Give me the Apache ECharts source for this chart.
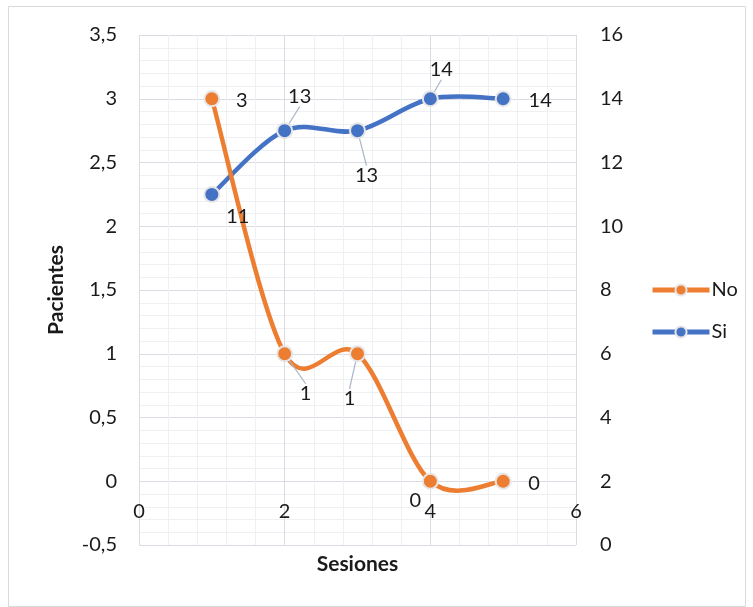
<!DOCTYPE html>
<html>
<head>
<meta charset="utf-8">
<script src="https://cdn.jsdelivr.net/npm/echarts@6/dist/echarts.min.js"></script>
<style>html,body{margin:0;padding:0;background:#fff}#c{width:753px;height:607px}</style>
</head>
<body>
<div id="c"></div>
<script>
var sesiones = [1, 2, 3, 4, 5];
var noValues = [3, 1, 1, 0, 0];
var siValues = [11, 13, 13, 14, 14];
var seriesNames = ['No', 'Si'];
var leftTicks = { min: -0.5, max: 3.5, interval: 0.5 };
var rightTicks = { min: 0, max: 16, interval: 2 };
var xTicks = { min: 0, max: 6, interval: 2 };

// label placement (offset of label centre from the point), leader flags
var noLabelOffsets = [[30, 2], [21, 40], [-8, 45], [-15, 19], [31, 2]];
var siLabelOffsets = [[26, 22], [15, -34], [9, 45], [11, -29], [37, 2]];
var noLeaders = [false, true, true, false, false];
var siLeaders = [false, true, true, true, false];

var FONT = 'Lato';
var TXT = '#1a1a1a';
var ORANGE = '#ED7D31';
var BLUE = '#4472C4';

function mkData(xs, ys, leaders) {
  return xs.map(function (x, i) {
    return { value: [x, ys[i]], labelLine: { show: leaders[i] } };
  });
}
function comma(v) { return String(v).replace('.', ','); }

// Excel-like smoothed curve (Catmull-Rom, 1/6 tangents) through coords from the axes
function curveSeries(name, xs, ys, color, yIdx, z) {
  return {
    name: name + '-curve',
    type: 'custom',
    yAxisIndex: yIdx,
    silent: true,
    z: z,
    data: xs.map(function (x, i) { return [x, ys[i]]; }),
    encode: { x: 0, y: 1 },
    renderItem: function (params, api) {
      if (params.dataIndex !== 0) return null;
      var p = xs.map(function (x, i) { return api.coord([x, ys[i]]); });
      var n = p.length;
      var d = 'M' + p[0][0] + ',' + p[0][1];
      for (var i = 0; i < n - 1; i++) {
        var p0 = p[Math.max(i - 1, 0)], p1 = p[i], p2 = p[i + 1], p3 = p[Math.min(i + 2, n - 1)];
        var c1x = p1[0] + (p2[0] - p0[0]) / 6, c1y = p1[1] + (p2[1] - p0[1]) / 6;
        var c2x = p2[0] - (p3[0] - p1[0]) / 6, c2y = p2[1] - (p3[1] - p1[1]) / 6;
        d += ' C' + c1x + ',' + c1y + ' ' + c2x + ',' + c2y + ' ' + p2[0] + ',' + p2[1];
      }
      return {
        type: 'path',
        shape: { pathData: d },
        style: { fill: 'none', stroke: color, lineWidth: 4.5, lineCap: 'round', lineJoin: 'round' }
      };
    }
  };
}

var chart = echarts.init(document.getElementById('c'), null, { renderer: 'canvas' });
var pointSeries = function (name, data, color, yIdx, offsets, z) {
  return {
    name: name,
    type: 'line',
    yAxisIndex: yIdx,
    data: data,
    symbol: 'circle',
    symbolSize: 15,
    lineStyle: { color: color, width: 4.5, opacity: 0 },
    itemStyle: { color: color, borderColor: '#e6e6e6', borderWidth: 2 },
    label: {
      show: true,
      position: 'inside',
      color: TXT,
      fontFamily: FONT,
      fontSize: 20,
      formatter: function (p) { return comma(p.value[1]); }
    },
    labelLine: { show: false, lineStyle: { color: '#a9b5c6', width: 1.2 } },
    labelLayout: function (p) {
      var o = offsets[p.dataIndex];
      return { dx: o[0], dy: o[1] };
    },
    emphasis: { disabled: true },
    z: z
  };
};

chart.setOption({
  animation: false,
  backgroundColor: '#ffffff',
  graphic: [{
    type: 'rect',
    shape: { x: 8.5, y: 6.5, width: 737, height: 600 },
    style: { fill: 'none', stroke: '#d9d9d9', lineWidth: 1 },
    silent: true
  }],
  grid: { left: 139, right: 177, top: 35, bottom: 62, containLabel: false, outerBoundsMode: 'none' },
  legend: {
    orient: 'vertical',
    left: 645,
    top: 275,
    itemWidth: 57,
    itemHeight: 14,
    itemGap: 22,
    textStyle: { fontFamily: FONT, fontSize: 20, color: TXT, padding: [0, 0, 0, -3] },
    data: [
      { name: seriesNames[0], lineStyle: { color: ORANGE, width: 5, opacity: 1 } },
      { name: seriesNames[1], lineStyle: { color: BLUE, width: 5, opacity: 1 } }
    ]
  },
  xAxis: {
    type: 'value',
    position: 'bottom',
    min: xTicks.min, max: xTicks.max, interval: xTicks.interval,
    name: 'Sesiones',
    nameLocation: 'middle',
    nameGap: 9,
    nameTextStyle: { fontFamily: FONT, fontSize: 21, fontWeight: 'bold', color: TXT },
    axisLine: { show: false, onZero: false },
    axisTick: { show: false },
    axisLabel: { fontFamily: FONT, fontSize: 20, color: TXT, margin: -43, showMinLabel: true, showMaxLabel: true },
    splitLine: { show: true, lineStyle: { color: '#d9dde3', width: 1 } },
    minorTick: { show: false, splitNumber: 5 },
    minorSplitLine: { show: true, lineStyle: { color: '#eef0f3', width: 1 } }
  },
  yAxis: [{
    type: 'value',
    position: 'left',
    min: leftTicks.min, max: leftTicks.max, interval: leftTicks.interval,
    name: 'Pacientes',
    nameLocation: 'middle',
    nameGap: 72,
    nameRotate: 90,
    nameTextStyle: { fontFamily: FONT, fontSize: 21, fontWeight: 'bold', color: TXT },
    axisLine: { show: false, onZero: false },
    axisTick: { show: false },
    axisLabel: { fontFamily: FONT, fontSize: 20, color: TXT, margin: 22, formatter: comma },
    splitLine: { show: true, lineStyle: { color: '#d9dde3', width: 1 } },
    minorTick: { show: false, splitNumber: 5 },
    minorSplitLine: { show: true, lineStyle: { color: '#eef0f3', width: 1 } }
  }, {
    type: 'value',
    position: 'right',
    min: rightTicks.min, max: rightTicks.max, interval: rightTicks.interval,
    axisLine: { show: false, onZero: false },
    axisTick: { show: false },
    axisLabel: { fontFamily: FONT, fontSize: 20, color: TXT, margin: 24 },
    splitLine: { show: false }
  }],
  series: [
    curveSeries(seriesNames[1], sesiones, siValues, BLUE, 1, 2),
    curveSeries(seriesNames[0], sesiones, noValues, ORANGE, 0, 3),
    pointSeries(seriesNames[0], mkData(sesiones, noValues, noLeaders), ORANGE, 0, noLabelOffsets, 5),
    pointSeries(seriesNames[1], mkData(sesiones, siValues, siLeaders), BLUE, 1, siLabelOffsets, 4)
  ]
});
</script>
</body>
</html>
